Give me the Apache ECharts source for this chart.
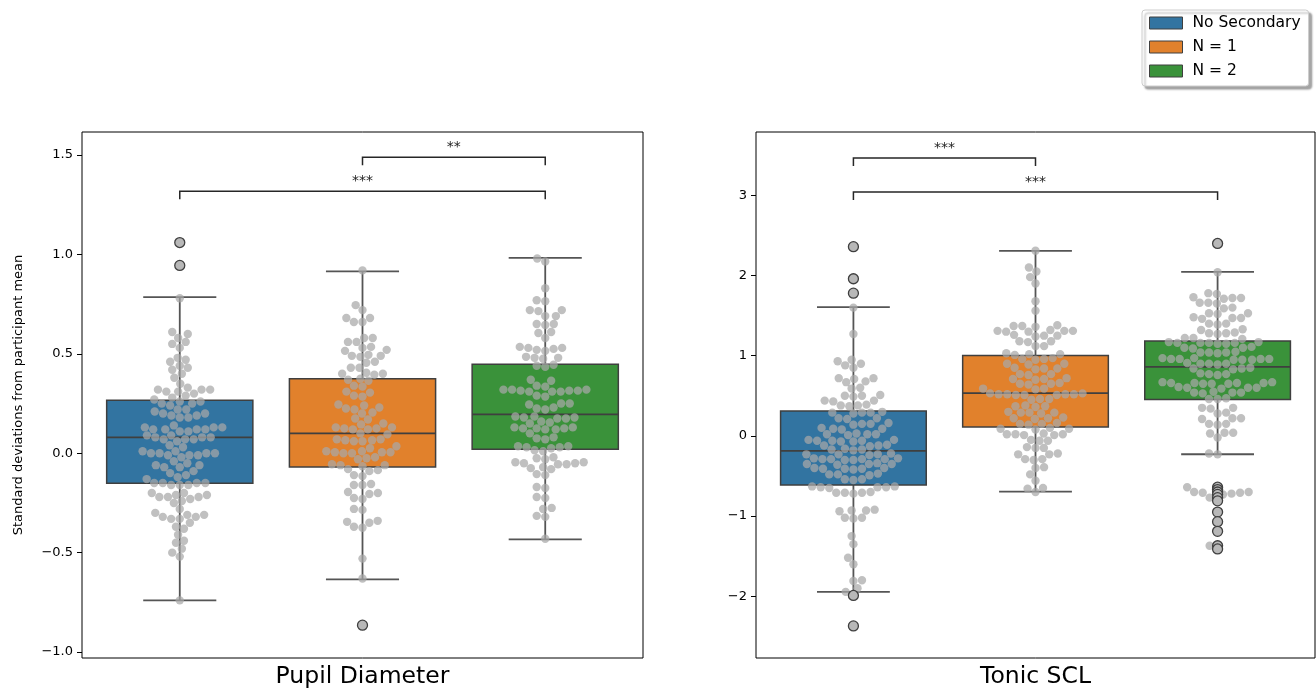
<!DOCTYPE html>
<html>
<head>
<meta charset="utf-8">
<script src="https://cdn.jsdelivr.net/npm/echarts@6.0.0/dist/echarts.min.js"></script>
<style>
  html, body { margin: 0; padding: 0; background: #ffffff; }
  #chart { width: 1316px; height: 689px; }
</style>
</head>
<body>
<div id="chart"></div>
<script>
// ---------------- DATA ----------------
const categories = ['No Secondary', 'N = 1', 'N = 2'];
const panelTitles = ['Pupil Diameter', 'Tonic SCL'];
const yAxisTitle = 'Standard deviations from participant mean';

const pupilTicks = [-1.0, -0.5, 0.0, 0.5, 1.0, 1.5];
const sclTicks = [-2, -1, 0, 1, 2, 3];
const pupilRange = [-1.03, 1.616];
const sclRange = [-2.77, 3.79];

// box stats: [lower whisker, Q1, median, Q3, upper whisker]
const pupilStats = [
  [-0.74, -0.151, 0.08, 0.267, 0.785],
  [-0.634, -0.069, 0.10, 0.375, 0.915],
  [-0.433, 0.02, 0.196, 0.448, 0.983]
];
const sclStats = [
  [-1.945, -0.613, -0.188, 0.312, 1.605],
  [-0.695, 0.112, 0.533, 1.004, 2.307],
  [-0.229, 0.455, 0.86, 1.183, 2.045]
];

// outliers: [category index, value]
const pupilFliers = [[0, 1.06], [0, 0.945], [1, -0.865]];
const sclFliers = [
  [0, 2.36], [0, 1.96], [0, 1.78], [0, -1.99], [0, -2.37],
  [2, 2.40], [2, -0.64], [2, -0.67], [2, -0.70], [2, -0.73], [2, -0.77], [2, -0.81],
  [2, -0.95], [2, -1.07], [2, -1.19], [2, -1.37], [2, -1.41]
];

// significance brackets: [from category, to category, level]
const pupilBrackets = [[0, 2, 1.318], [1, 2, 1.489]];
const pupilBracketLabels = ['***', '**'];
const sclBrackets = [[0, 1, 3.466], [0, 2, 3.042]];
const sclBracketLabels = ['***', '***'];

// individual observations (swarm)
const pupilNone = [0.78,
  0.61, 0.60, 0.58, 0.56, 0.55, 0.53,
  0.48, 0.47, 0.46, 0.44, 0.43, 0.42, 0.40, 0.38, 0.35,
  0.33, 0.32, 0.32, 0.32, 0.31, 0.31, 0.30, 0.29,
  0.28, 0.27, 0.26, 0.26, 0.25, 0.25, 0.24,
  0.22, 0.22, 0.21, 0.20, 0.20, 0.19, 0.19, 0.18, 0.18,
  0.14, 0.13, 0.13, 0.13, 0.12, 0.12, 0.12, 0.11, 0.11, 0.12,
  0.09, 0.09, 0.08, 0.08, 0.08, 0.07, 0.07, 0.07, 0.06,
  0.04, 0.03,
  0.01, 0.00, 0.00, 0.00, 0.00, -0.01, -0.01, -0.01, 0.01, -0.02,
  -0.04, -0.05, -0.06, -0.07, -0.07, -0.06,
  -0.09, -0.10, -0.11, -0.12, -0.13,
  -0.15, -0.15, -0.15, -0.16, -0.16, -0.15, -0.16,
  -0.20, -0.21, -0.22, -0.22, -0.22, -0.21, -0.20,
  -0.23, -0.24, -0.25,
  -0.28, -0.30, -0.32, -0.31, -0.32, -0.33, -0.33, -0.31,
  -0.35, -0.37, -0.38, -0.41, -0.44, -0.45, -0.48, -0.50, -0.52,
  -0.74, 1.06, 0.945];

const pupilOne = [0.92, 0.745, 0.72, 0.68, 0.68, 0.66, 0.66,
  0.58, 0.58, 0.56, 0.56, 0.53, 0.535, 0.52, 0.515,
  0.49, 0.49, 0.495, 0.485, 0.46, 0.455, 0.43, 0.43,
  0.40, 0.40, 0.395, 0.405, 0.37, 0.375, 0.365,
  0.34, 0.335, 0.31, 0.305, 0.29, 0.285,
  0.24, 0.245, 0.225, 0.22, 0.23,
  0.20, 0.205, 0.175, 0.17, 0.15, 0.145,
  0.125, 0.125, 0.12, 0.13, 0.12, 0.13,
  0.10, 0.095,
  0.065, 0.065, 0.06, 0.07, 0.06, 0.07,
  0.035, 0.025,
  0.005, 0.005, 0.0, 0.01, 0.0, 0.01, 0.005,
  -0.025, -0.02, -0.03,
  -0.06, -0.055, -0.065, -0.06,
  -0.085, -0.08, -0.09,
  -0.11, -0.115, -0.16, -0.16, -0.155,
  -0.20, -0.195, -0.205, -0.225, -0.23,
  -0.285, -0.28, -0.345, -0.34, -0.35, -0.37, -0.375,
  -0.53, -0.63, -0.865];

const pupilTwo = [0.98, 0.965, 0.83, 0.77, 0.765, 0.72, 0.72, 0.715, 0.69, 0.69,
  0.65, 0.65, 0.645, 0.61, 0.605, 0.58,
  0.53, 0.53, 0.525, 0.535, 0.515, 0.52,
  0.48, 0.48, 0.475, 0.485, 0.44, 0.445, 0.435,
  0.37, 0.365, 0.34, 0.335,
  0.315, 0.315, 0.31, 0.32, 0.315, 0.31, 0.32, 0.31, 0.32,
  0.29, 0.285,
  0.25, 0.25, 0.245, 0.225, 0.22, 0.23,
  0.18, 0.18, 0.175, 0.185, 0.175, 0.185,
  0.155, 0.15, 0.16,
  0.125, 0.125, 0.12, 0.13, 0.12, 0.13, 0.125,
  0.10, 0.075, 0.07, 0.08,
  0.03, 0.03, 0.035, 0.025, 0.035,
  0.015, 0.01,
  -0.025, -0.02, -0.03,
  -0.05, -0.05, -0.045, -0.055, -0.045, -0.055,
  -0.075, -0.07, -0.08,
  -0.11, -0.105, -0.17, -0.175, -0.22, -0.225, -0.28, -0.275, -0.32, -0.315,
  -0.43];

const sclNone = [2.36, 1.96, 1.78, 1.60, 1.27,
  0.95, 0.93, 0.90, 0.88, 0.85, 0.72, 0.72, 0.71, 0.68, 0.67, 0.60, 0.59,
  0.50, 0.50, 0.49, 0.51, 0.44, 0.44, 0.43,
  0.38, 0.38, 0.37, 0.39, 0.29, 0.29, 0.28, 0.30, 0.29,
  0.22, 0.22, 0.21, 0.15, 0.15, 0.14, 0.16, 0.09, 0.09, 0.08, 0.10,
  0.02, 0.02, 0.01, 0.03, 0.02,
  -0.06, -0.06, -0.05, -0.07, -0.06, -0.05, -0.07,
  -0.12, -0.12, -0.11, -0.13,
  -0.17, -0.17, -0.16, -0.18,
  -0.23, -0.23, -0.22, -0.24, -0.23,
  -0.29, -0.29, -0.28, -0.30, -0.29, -0.28, -0.30, -0.29,
  -0.35, -0.35, -0.34, -0.36, -0.35,
  -0.41, -0.41, -0.40, -0.42, -0.41, -0.40,
  -0.48, -0.48, -0.47, -0.49, -0.54, -0.54, -0.55,
  -0.64, -0.64, -0.63, -0.65, -0.64, -0.63,
  -0.71, -0.71, -0.70, -0.72, -0.71,
  -0.93, -0.93, -0.92, -0.94, -1.02, -1.02, -1.03,
  -1.25, -1.35, -1.52, -1.60, -1.81, -1.80, -1.90, -1.945, -1.99, -2.37];

const sclOne = [2.31, 2.10, 2.05, 1.98, 1.90, 1.68, 1.56,
  1.37, 1.37, 1.36, 1.38, 1.31, 1.31, 1.30, 1.32, 1.31, 1.30,
  1.25, 1.25, 1.24, 1.26, 1.18, 1.18, 1.17, 1.12, 1.12,
  1.02, 1.02, 1.01, 1.03, 0.96, 0.96, 0.95, 0.97,
  0.90, 0.90, 0.89, 0.84, 0.84, 0.83, 0.85,
  0.77, 0.77, 0.76, 0.71, 0.71, 0.70, 0.72,
  0.65, 0.65, 0.64, 0.66, 0.59, 0.59, 0.58,
  0.52, 0.52, 0.51, 0.53, 0.52, 0.51, 0.53, 0.52, 0.51,
  0.46, 0.46, 0.45, 0.37, 0.37, 0.36, 0.38,
  0.29, 0.29, 0.28, 0.30, 0.29, 0.22, 0.22, 0.21, 0.23,
  0.15, 0.15, 0.14, 0.16, 0.09, 0.09, 0.08, 0.10,
  0.02, 0.02, 0.01, 0.03, 0.02, 0.01,
  -0.06, -0.06, -0.05, -0.15, -0.15, -0.14, -0.23, -0.23, -0.22,
  -0.29, -0.29, -0.30, -0.40, -0.39, -0.48, -0.56, -0.66, -0.65, -0.70];

const sclTwo = [2.40, 2.04, 1.78, 1.77, 1.72, 1.72, 1.71, 1.73, 1.66, 1.66, 1.65,
  1.60, 1.59, 1.53, 1.53, 1.52, 1.47, 1.47, 1.46, 1.48, 1.40, 1.40, 1.39,
  1.33, 1.32, 1.28, 1.28, 1.27, 1.29, 1.22, 1.22, 1.21,
  1.16, 1.16, 1.15, 1.17, 1.16, 1.15, 1.17, 1.16,
  1.10, 1.10, 1.09, 1.11, 1.04, 1.04, 1.03, 1.05, 1.04,
  0.96, 0.96, 0.95, 0.97, 0.96, 0.95, 0.97, 0.96, 0.95,
  0.90, 0.90, 0.89, 0.91, 0.90, 0.84, 0.84, 0.83, 0.85,
  0.77, 0.77, 0.76, 0.78,
  0.66, 0.66, 0.65, 0.67, 0.66, 0.65, 0.67, 0.66, 0.65,
  0.60, 0.60, 0.59, 0.61, 0.60, 0.54, 0.54, 0.53, 0.55, 0.54,
  0.46, 0.46, 0.47, 0.35, 0.35, 0.34, 0.29, 0.28, 0.22, 0.22, 0.21,
  0.15, 0.15, 0.14, 0.04, 0.04, 0.03, -0.02, -0.23, -0.22,
  -0.71, -0.71, -0.70, -0.72,
  -0.64, -0.67, -0.70, -0.73, -0.77, -0.81, -0.95, -1.07, -1.19, -1.37, -1.41];

const colors = ['#3274a1', '#e1812c', '#3a923a'];

// ---------------- LAYOUT ----------------
const FONT = 'DejaVu Sans';
const grids = [
  { left: 82, top: 132, width: 561, height: 526 },
  { left: 756, top: 132, width: 559, height: 526 }
];
const xRange = [-0.535, 2.535];
const BOX_HALF = 0.4, CAP_HALF = 0.2;
const DOT_D = 8.2, DOT_R = 4.2;

function swarmOffsets(values, pxPerUnit, d) {
  const order = values.map((v, i) => i).sort((a, b) => values[a] - values[b]);
  const placed = [];
  const off = new Array(values.length).fill(0);
  for (const i of order) {
    const y = values[i] * pxPerUnit;
    const nb = placed.filter(p => Math.abs(p.y - y) < d);
    const cands = [0];
    let leftFirst = true;
    for (const p of nb) {
      const dx = Math.sqrt(Math.max(d * d - (p.y - y) * (p.y - y), 0)) * 1.05;
      if (leftFirst) cands.push(p.x - dx, p.x + dx); else cands.push(p.x + dx, p.x - dx);
      leftFirst = !leftFirst;
    }
    const sorted = cands.map((c, k) => [c, k]).sort((a, b) => (Math.abs(a[0]) - Math.abs(b[0])) || (a[1] - b[1]));
    let chosen = 0;
    for (const [c] of sorted) {
      if (nb.every(p => (p.x - c) * (p.x - c) + (p.y - y) * (p.y - y) >= d * d - 1e-6)) { chosen = c; break; }
    }
    placed.push({ x: chosen, y });
    off[i] = chosen;
  }
  return off;
}

function swarmData(groups, range, grid) {
  const ppu = grid.height / (range[1] - range[0]);
  const out = [];
  groups.forEach((vals, c) => {
    const off = swarmOffsets(vals, ppu, DOT_D);
    vals.forEach((v, i) => out.push([c, v, off[i]]));
  });
  return out;
}

const fmt = (dec) => (v) => {
  const s = Math.abs(v).toFixed(dec);
  return (v < -1e-9 ? '\u2212' : '') + s;
};

function boxRender(params, api) {
  const c = api.value(0);
  const mn = api.value(1), q1 = api.value(2), md = api.value(3), q3 = api.value(4), mx = api.value(5);
  const tl = api.coord([c - BOX_HALF, q3]);
  const br = api.coord([c + BOX_HALF, q1]);
  const cx = api.coord([c, md])[0];
  const yMed = api.coord([c, md])[1];
  const yMin = api.coord([c, mn])[1];
  const yMax = api.coord([c, mx])[1];
  const capL = api.coord([c - CAP_HALF, mx])[0];
  const capR = api.coord([c + CAP_HALF, mx])[0];
  const wStyle = { stroke: '#555555', lineWidth: 1.8 };
  const color = api.visual('color');
  return {
    type: 'group',
    children: [
      { type: 'line', shape: { x1: cx, y1: tl[1], x2: cx, y2: yMax }, style: wStyle },
      { type: 'line', shape: { x1: cx, y1: br[1], x2: cx, y2: yMin }, style: wStyle },
      { type: 'line', shape: { x1: capL, y1: yMax, x2: capR, y2: yMax }, style: wStyle },
      { type: 'line', shape: { x1: capL, y1: yMin, x2: capR, y2: yMin }, style: wStyle },
      { type: 'rect', shape: { x: tl[0], y: tl[1], width: br[0] - tl[0], height: br[1] - tl[1] },
        style: { fill: color, stroke: '#3f3f3f', lineWidth: 1.5 } },
      { type: 'line', shape: { x1: tl[0], y1: yMed, x2: br[0], y2: yMed }, style: { stroke: '#3f3f3f', lineWidth: 1.8 } }
    ]
  };
}

function swarmRender(params, api) {
  const p = api.coord([api.value(0), api.value(1)]);
  return { type: 'circle', shape: { cx: p[0] + api.value(2), cy: p[1], r: DOT_R },
    style: { fill: 'rgba(168,168,168,0.72)' } };
}

function bracketRenderFactory(labels) {
  return function (params, api) {
    const a = api.coord([api.value(0), api.value(2)]);
    const b = api.coord([api.value(1), api.value(2)]);
    const tip = 8;
    return {
      type: 'group',
      children: [
        { type: 'polyline', shape: { points: [[a[0], a[1] + tip], [a[0], a[1]], [b[0], b[1]], [b[0], b[1] + tip]] },
          style: { stroke: '#262626', lineWidth: 1.5, fill: null } },
        { type: 'text', x: (a[0] + b[0]) / 2, y: a[1] - 3,
          style: { text: labels[params.dataIndex], align: 'center', verticalAlign: 'bottom',
            fontSize: 14, fontFamily: FONT, fill: '#222222' } }
      ]
    };
  };
}

const panels = [
  { stats: pupilStats, groups: [pupilNone, pupilOne, pupilTwo], fliers: pupilFliers, brackets: pupilBrackets,
    bracketLabels: pupilBracketLabels, ticks: pupilTicks, range: pupilRange, dec: 1 },
  { stats: sclStats, groups: [sclNone, sclOne, sclTwo], fliers: sclFliers, brackets: sclBrackets,
    bracketLabels: sclBracketLabels, ticks: sclTicks, range: sclRange, dec: 0 }
];

const series = [];
const xAxis = [], yAxis = [];
panels.forEach((P, pi) => {
  xAxis.push({
    type: 'value', gridIndex: pi, min: xRange[0], max: xRange[1],
    axisLine: { show: false, onZero: false }, axisTick: { show: false }, axisLabel: { show: false }, splitLine: { show: false },
    name: panelTitles[pi], nameLocation: 'middle', nameGap: 7,
    nameTextStyle: { fontSize: 23.5, color: '#000', fontFamily: FONT }
  });
  yAxis.push({
    type: 'value', gridIndex: pi, min: P.range[0], max: P.range[1],
    axisLine: { show: false, onZero: false },
    axisTick: { show: true, length: 5, lineStyle: { color: '#000', width: 1 }, customValues: P.ticks },
    axisLabel: { show: true, customValues: P.ticks, formatter: fmt(P.dec), fontSize: 13, color: '#000',
      fontFamily: FONT, margin: 9 },
    splitLine: { show: false },
    name: pi === 0 ? yAxisTitle : '', nameLocation: 'middle', nameGap: 57, nameRotate: 90,
    nameTextStyle: { fontSize: 13, color: '#000', fontFamily: FONT }
  });
  P.stats.forEach((s, c) => {
    series.push({
      type: 'custom', name: categories[c], xAxisIndex: pi, yAxisIndex: pi,
      itemStyle: { color: colors[c], borderColor: '#3f3f3f', borderWidth: 1 },
      data: [[c].concat(s)], encode: { x: 0, y: [1, 2, 3, 4, 5] },
      renderItem: boxRender, z: 2, silent: true
    });
  });
  series.push({
    type: 'custom', name: 'swarm' + pi, xAxisIndex: pi, yAxisIndex: pi,
    data: swarmData(P.groups, P.range, grids[pi]), encode: { x: 0, y: 1 },
    renderItem: swarmRender, z: 3, silent: true
  });
  series.push({
    type: 'scatter', name: 'fliers' + pi, xAxisIndex: pi, yAxisIndex: pi,
    data: P.fliers, symbol: 'circle', symbolSize: 10,
    itemStyle: { color: '#b8b8b8', borderColor: '#3f3f3f', borderWidth: 1.3, opacity: 1 },
    z: 4, silent: true
  });
  series.push({
    type: 'custom', name: 'brackets' + pi, xAxisIndex: pi, yAxisIndex: pi,
    data: P.brackets, encode: { x: [0, 1], y: 2 },
    renderItem: bracketRenderFactory(P.bracketLabels), z: 5, silent: true, clip: false
  });
});

const chart = echarts.init(document.getElementById('chart'), null, { renderer: 'canvas' });
chart.setOption({
  animation: false,
  backgroundColor: '#ffffff',
  textStyle: { fontFamily: FONT },
  grid: grids.map(g => Object.assign({ show: true, borderColor: '#000', borderWidth: 1,
    backgroundColor: 'transparent', containLabel: false, outerBoundsMode: 'none' }, g)),
  xAxis, yAxis,
  legend: {
    orient: 'vertical', left: 1142, top: 10, selectedMode: false,
    data: categories.map((n, i) => ({ name: n, icon: 'rect',
      itemStyle: { color: colors[i], borderColor: '#3f3f3f', borderWidth: 1 } })),
    itemWidth: 33, itemHeight: 12, itemGap: 8,
    textStyle: { fontSize: 15.5, lineHeight: 15, color: '#000', fontFamily: FONT, padding: [0, 0, 0, 5] },
    backgroundColor: '#ffffff', borderColor: '#cccccc', borderWidth: 1, borderRadius: 3,
    padding: [5, 8, 7, 7],
    shadowColor: 'rgba(0,0,0,0.35)', shadowOffsetX: 3, shadowOffsetY: 3, shadowBlur: 2
  },
  series
});
</script>
</body>
</html>
